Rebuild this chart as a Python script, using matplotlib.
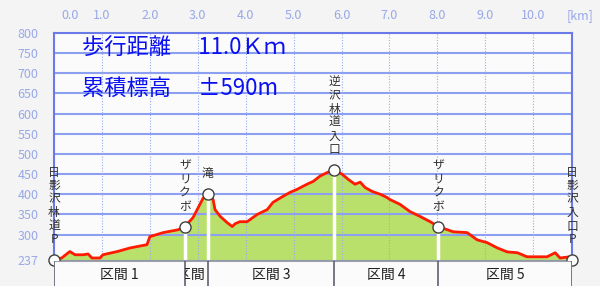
import matplotlib.pyplot as plt
from matplotlib.patches import Rectangle
from matplotlib.transforms import ScaledTranslation

plt.rcParams['font.family'] = ['Noto Sans CJK JP', 'DejaVu Sans']

# elevation profile
dist_km = [0.0, 0.16, 0.33, 0.44, 0.61, 0.71, 0.79, 0.96, 1.02, 1.32, 1.59, 1.94,
           2.00, 2.28, 2.59, 2.73, 2.90, 3.01, 3.11, 3.21, 3.32, 3.36, 3.47, 3.61,
           3.72, 3.78, 3.88, 4.03, 4.24, 4.45, 4.57, 4.78, 4.93, 5.07, 5.28, 5.41,
           5.55, 5.72, 5.85, 6.01, 6.14, 6.28, 6.39, 6.49, 6.64, 6.81, 6.95, 7.01,
           7.22, 7.43, 7.64, 7.85, 8.02, 8.33, 8.62, 8.83, 9.04, 9.25, 9.46, 9.67,
           9.87, 10.08, 10.29, 10.46, 10.56, 10.77, 10.81]
elev_m = [237, 242, 258, 250, 250, 252, 242, 242, 250, 258, 267, 275,
          295, 305, 312, 320, 342, 367, 390, 400, 387, 362, 345, 330,
          320, 327, 332, 332, 350, 362, 380, 395, 405, 412, 425, 432,
          445, 455, 460, 450, 437, 425, 430, 417, 407, 400, 392, 387,
          375, 357, 345, 332, 320, 307, 305, 287, 280, 267, 257, 255,
          245, 245, 245, 255, 242, 245, 237]

spot_km = [0.0, 2.73, 3.21, 5.85, 8.02, 10.81]
spot_elev = [237, 320, 400, 460, 320, 237]
spot_names = ['日影沢林道P', 'ザリクボ', '滝', '逆沢林道入口', 'ザリクボ', '日影沢入口P']
section_names = ['区間 1', '区間 2', '区間 3', '区間 4', '区間 5']

y_ticks = [237, 300, 350, 400, 450, 500, 550, 600, 650, 700, 750, 800]
x_ticks = [0, 1, 2, 3, 4, 5, 6, 7, 8, 9, 10]

fig = plt.figure(figsize=(6, 2.86), dpi=100, facecolor='#f4f4f4')
ax = fig.add_axes([54/600, 1-260/286, 518/600, 227/286])
ax.set_facecolor('#fbfbfb')
ax.set_xlim(0, 10.81)
ax.set_ylim(237, 800)

for y in y_ticks[1:-1]:
    ax.axhline(y, color='#8c9ff0', lw=1.5, zorder=2)
for x in x_ticks[1:]:
    ax.axvline(x, color='#9aaaf0', lw=0.8, ls=(0, (1, 1.5)), zorder=2)

ax.fill_between(dist_km, 237, elev_m, color='#b9e06a', lw=0, zorder=1)
ax.plot(dist_km, elev_m, color='#ff1a00', lw=2, zorder=3)

ax.vlines(spot_km[1:-1], 237, spot_elev[1:-1], colors='white', lw=2.5, zorder=4)
ax.plot(spot_km, spot_elev, 'o', ms=8, mfc='white', mec='#404040', mew=1,
        clip_on=False, zorder=5)

for km, el, name in zip(spot_km, spot_elev, spot_names):
    ax.annotate('\n'.join(name), xy=(km, el), xytext=(0, 10), textcoords='offset points',
                ha='center', va='bottom', fontsize=8.5, linespacing=1.05,
                color='#303030', annotation_clip=False, zorder=6)

ax.xaxis.tick_top()
ax.set_xticks(x_ticks)
ax.set_xticklabels([f'{x:.1f}' for x in x_ticks])
ax.set_yticks(y_ticks)
ax.tick_params(length=0, labelsize=9, labelcolor='#98a8e8')
ax.tick_params(axis='x', pad=8)
ax.tick_params(axis='y', pad=11)
lbl = ax.get_xticklabels()[0]
lbl.set_transform(lbl.get_transform() + ScaledTranslation(0.16, 0, fig.dpi_scale_trans))
fig.text(580/600, 1-16/286, '[km]', color='#98a8e8', fontsize=9, ha='center', va='center')

for side in ['left', 'top', 'right']:
    ax.spines[side].set_color('#6a7ae8')
    ax.spines[side].set_linewidth(1.5)
ax.spines['bottom'].set_color('#9098b0')

fig.text(82/600, 1-48/286, '歩行距離　 11.0Ｋｍ', color='#0a10f0', fontsize=16, va='center')
fig.text(82/600, 1-88/286, '累積標高　 ±590m', color='#0a10f0', fontsize=16, va='center')

# section bar
ax2 = fig.add_axes([54/600, 0, 518/600, 25/286])
ax2.set_facecolor('#fbfbfb')
ax2.set_xlim(0, 10.81)
ax2.set_ylim(0, 1)
ax2.set_xticks([])
ax2.set_yticks([])
for side in ax2.spines:
    ax2.spines[side].set_visible(False)
ax2.axhline(1, color='#a0a0a8', lw=1.5)
ax2.vlines(spot_km, 0, 1, colors='#606070', lw=1.2)
for i, name in enumerate(section_names):
    a, b = spot_km[i], spot_km[i+1]
    t = ax2.text((a + b) / 2, 0.45, name, ha='center', va='center', fontsize=10,
                 color='#202020', clip_on=True)
    t.set_clip_path(Rectangle((a, 0), b - a, 1, transform=ax2.transData))

fig.savefig('out.png', dpi=100, facecolor=fig.get_facecolor())
